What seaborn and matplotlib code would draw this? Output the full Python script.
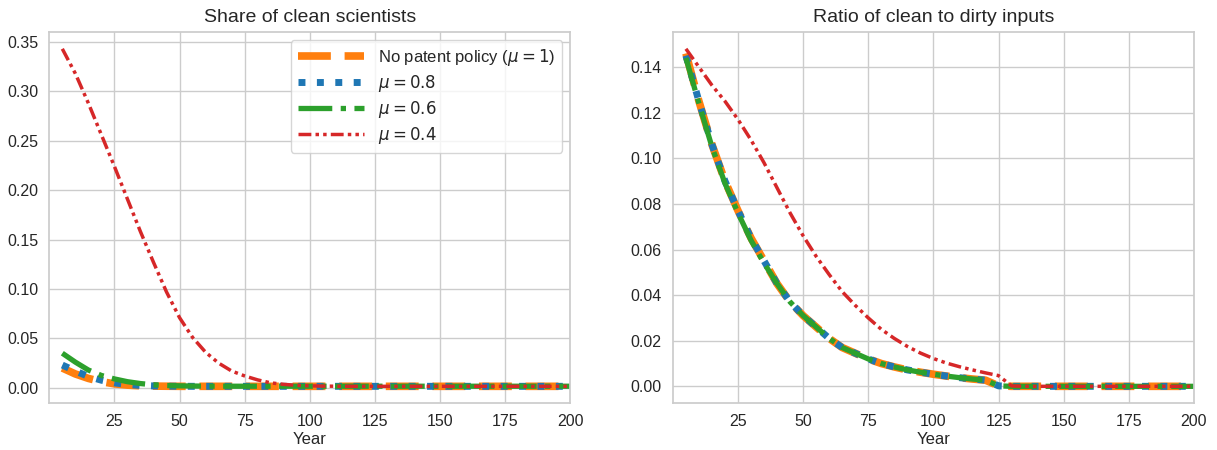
import numpy as np
import pandas as pd
import seaborn as sns
import matplotlib
matplotlib.use("Agg")
import matplotlib.pyplot as plt

sns.set_theme(style="whitegrid")
plt.rcParams['font.family'] = ['Liberation Sans', 'DejaVu Sans']

# Years (5-year periods)
years = list(range(5, 201, 5))

# Share of clean scientists
share_mu1 = [0.020, 0.014, 0.0095, 0.0062, 0.0040, 0.0027, 0.0020, 0.0017, 0.0016, 0.0015,
             0.0015, 0.0015, 0.0015, 0.0015, 0.0015, 0.0015, 0.0015, 0.0015, 0.0015, 0.0015,
             0.0015, 0.0015, 0.0015, 0.0015, 0.0015, 0.0015, 0.0015, 0.0015, 0.0015, 0.0015,
             0.0015, 0.0015, 0.0015, 0.0015, 0.0015, 0.0015, 0.0015, 0.0015, 0.0015, 0.0015]
share_mu08 = [0.023, 0.017, 0.0115, 0.0077, 0.0050, 0.0034, 0.0024, 0.0019, 0.0017, 0.0016,
              0.0015, 0.0015, 0.0015, 0.0015, 0.0015, 0.0015, 0.0015, 0.0015, 0.0015, 0.0015,
              0.0015, 0.0015, 0.0015, 0.0015, 0.0015, 0.0015, 0.0015, 0.0015, 0.0015, 0.0015,
              0.0015, 0.0015, 0.0015, 0.0015, 0.0015, 0.0015, 0.0015, 0.0015, 0.0015, 0.0015]
share_mu06 = [0.035, 0.026, 0.018, 0.0125, 0.0090, 0.0062, 0.0043, 0.0030, 0.0023, 0.0020,
              0.0018, 0.0017, 0.0016, 0.0016, 0.0016, 0.0016, 0.0016, 0.0016, 0.0016, 0.0016,
              0.0016, 0.0016, 0.0016, 0.0016, 0.0016, 0.0016, 0.0016, 0.0016, 0.0016, 0.0016,
              0.0016, 0.0016, 0.0016, 0.0016, 0.0016, 0.0016, 0.0016, 0.0016, 0.0016, 0.0016]
share_mu04 = [0.343, 0.318, 0.288, 0.256, 0.224, 0.191, 0.158, 0.127, 0.097, 0.071,
              0.051, 0.036, 0.025, 0.017, 0.012, 0.008, 0.005, 0.0035, 0.0025, 0.0020,
              0.0017, 0.0016, 0.0015, 0.0015, 0.0015, 0.0015, 0.0015, 0.0015, 0.0015, 0.0015,
              0.0015, 0.0015, 0.0015, 0.0015, 0.0015, 0.0015, 0.0015, 0.0015, 0.0015, 0.0015]

# Ratio of clean to dirty inputs
ratio_mu1 = [0.146, 0.125, 0.106, 0.090, 0.077, 0.065, 0.055, 0.045, 0.037, 0.031,
             0.026, 0.021, 0.017, 0.0145, 0.012, 0.010, 0.0085, 0.0072, 0.0062, 0.0053,
             0.0045, 0.0038, 0.0032, 0.0027, 0.0002, 0.0, 0.0, 0.0, 0.0, 0.0,
             0.0, 0.0, 0.0, 0.0, 0.0, 0.0, 0.0, 0.0, 0.0, 0.0]
ratio_mu08 = [0.145, 0.125, 0.106, 0.090, 0.077, 0.065, 0.055, 0.045, 0.037, 0.031,
              0.026, 0.021, 0.017, 0.0145, 0.012, 0.010, 0.0085, 0.0072, 0.0062, 0.0053,
              0.0045, 0.0038, 0.0032, 0.0027, 0.0002, 0.0, 0.0, 0.0, 0.0, 0.0,
              0.0, 0.0, 0.0, 0.0, 0.0, 0.0, 0.0, 0.0, 0.0, 0.0]
ratio_mu06 = [0.144, 0.124, 0.105, 0.089, 0.076, 0.064, 0.054, 0.045, 0.037, 0.031,
              0.026, 0.021, 0.017, 0.0145, 0.012, 0.010, 0.0085, 0.0072, 0.0062, 0.0053,
              0.0045, 0.0038, 0.0032, 0.0027, 0.0002, 0.0, 0.0, 0.0, 0.0, 0.0,
              0.0, 0.0, 0.0, 0.0, 0.0, 0.0, 0.0, 0.0, 0.0, 0.0]
ratio_mu04 = [0.148, 0.140, 0.132, 0.125, 0.117, 0.108, 0.098, 0.087, 0.076, 0.066,
              0.057, 0.049, 0.0415, 0.0355, 0.030, 0.025, 0.021, 0.0175, 0.0146, 0.0122,
              0.0102, 0.0086, 0.0072, 0.0059, 0.0047, 0.0002, 0.0, 0.0, 0.0, 0.0,
              0.0, 0.0, 0.0, 0.0, 0.0, 0.0, 0.0, 0.0, 0.0, 0.0]

labels = ['No patent policy ($\\mu = 1$)', '$\\mu = 0.8$', '$\\mu = 0.6$', '$\\mu = 0.4$']
colors = ['#ff7f0e', '#1f77b4', '#2ca02c', '#d62728']
styles = [(0, (4.3, 1.8)), ':', '-.', (0, (3.7, 1.2, 1, 1.2, 1, 1.2))]
widths = [5.5, 5, 3.8, 2.5]

fig, axes = plt.subplots(1, 2, figsize=(12.17, 4.5), dpi=100)
plt.subplots_adjust(left=0.0405, right=0.981, top=0.929, bottom=0.104, wspace=0.197)

panels = [
    ('Share of clean scientists', [share_mu1, share_mu08, share_mu06, share_mu04]),
    ('Ratio of clean to dirty inputs', [ratio_mu1, ratio_mu08, ratio_mu06, ratio_mu04]),
]

for i, (ax, (title, series)) in enumerate(zip(axes, panels)):
    for vals, lab, c, ls, lw in zip(series, labels, colors, styles, widths):
        sns.lineplot(x=years, y=vals, ax=ax, color=c, linestyle=ls, linewidth=lw,
                     label=lab if i == 0 else None, legend=False)
    ax.set_title(title, fontsize=14, pad=7)
    ax.set_xlabel('Year', fontsize=12, labelpad=2)
    ax.set_xlim(0, 200)
    ax.set_xticks(range(25, 201, 25))
    ax.tick_params(labelsize=11.5, pad=2)

axes[0].legend(loc='upper right', handlelength=4, fontsize=12, frameon=True,
               labelspacing=0.3, borderaxespad=0.5)

fig.savefig('out.png', dpi=100)
